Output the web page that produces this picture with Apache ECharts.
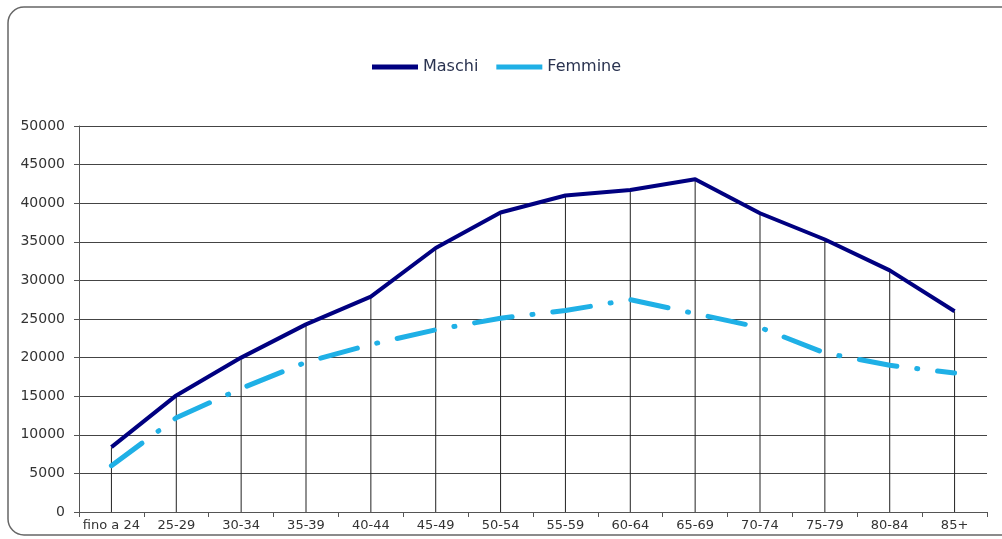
<!DOCTYPE html>
<html>
<head>
<meta charset="utf-8">
<script src="https://cdn.jsdelivr.net/npm/echarts@6/dist/echarts.min.js"></script>
<style>
    html, body { margin: 0; padding: 0; background: #fff; }
    #main { width: 1002px; height: 539px; }
</style>
</head>
<body>
<div id="main"></div>
<script>
// classi di età
var categories = ['fino a 24', '25-29', '30-34', '35-39', '40-44', '45-49', '50-54',
    '55-59', '60-64', '65-69', '70-74', '75-79', '80-84', '85+'];
var maschi = [8400, 15100, 20000, 24300, 27900, 34200, 38800, 41000, 41700, 43100, 38700, 35300, 31300, 26000];
var femmine = [6000, 12200, 16000, 19400, 21700, 23600, 25100, 26100, 27500, 25700, 23900, 20600, 19000, 18000];
var yTicks = [0, 50000, 5000]; // min, max, passo

// linee di proiezione: dal basso fino al valore più alto della categoria
var dropLines = [];
for (var i = 0; i < categories.length; i++) {
    dropLines.push(Math.max(maschi[i], femmine[i]));
}

var myChart = echarts.init(document.getElementById('main'));
var option = {
    backgroundColor: '#fff',
    animation: false,
    graphic: [{
        type: 'rect',
        shape: { x: 8, y: 7, width: 1040, height: 528, r: 16 },
        style: { fill: 'none', stroke: '#666', lineWidth: 1.5 },
        silent: true
    }],
    legend: {
        left: 367,
        top: 54,
        icon: 'rect',
        itemWidth: 46,
        itemHeight: 5,
        itemGap: 18,
        textStyle: { fontFamily: 'DejaVu Sans', fontSize: 16, color: '#2a3350' },
        data: ['Maschi', 'Femmine']
    },
    grid: {
        left: 79,
        right: 15,
        top: 126,
        bottom: 27
    },
    xAxis: {
        type: 'category',
        data: categories,
        boundaryGap: true,
        axisLine: { lineStyle: { color: '#555', width: 1 } },
        axisTick: { show: true, interval: 0, length: 5, lineStyle: { color: '#555' } },
        axisLabel: {
            interval: 0,
            margin: 7,
            fontFamily: 'DejaVu Sans',
            fontSize: 13,
            color: '#333'
        },
        splitLine: { show: false }
    },
    yAxis: {
        type: 'value',
        min: yTicks[0],
        max: yTicks[1],
        interval: yTicks[2],
        axisLine: { show: true, lineStyle: { color: '#555', width: 1 } },
        axisTick: { show: true, length: 5, lineStyle: { color: '#555' } },
        axisLabel: {
            margin: 14,
            fontFamily: 'DejaVu Sans',
            fontSize: 14,
            color: '#333',
            formatter: function (v) { return String(v); }
        },
        splitLine: { show: true, lineStyle: { color: '#444', width: 1 } }
    },
    series: [{
        name: 'proiezione',
        type: 'bar',
        data: dropLines,
        barWidth: 1,
        itemStyle: { color: '#222' },
        silent: true,
        z: 1
    }, {
        name: 'Maschi',
        type: 'line',
        data: maschi,
        symbol: 'none',
        lineStyle: { color: '#000080', width: 4, join: 'round' },
        itemStyle: { color: '#000080' },
        z: 3
    }, {
        name: 'Femmine',
        type: 'line',
        data: femmine,
        symbol: 'none',
        lineStyle: { color: '#1fb0e6', width: 5, type: [38, 20, 1, 20], cap: 'round' },
        itemStyle: { color: '#1fb0e6' },
        z: 2
    }]
};
myChart.setOption(option);
</script>
</body>
</html>
